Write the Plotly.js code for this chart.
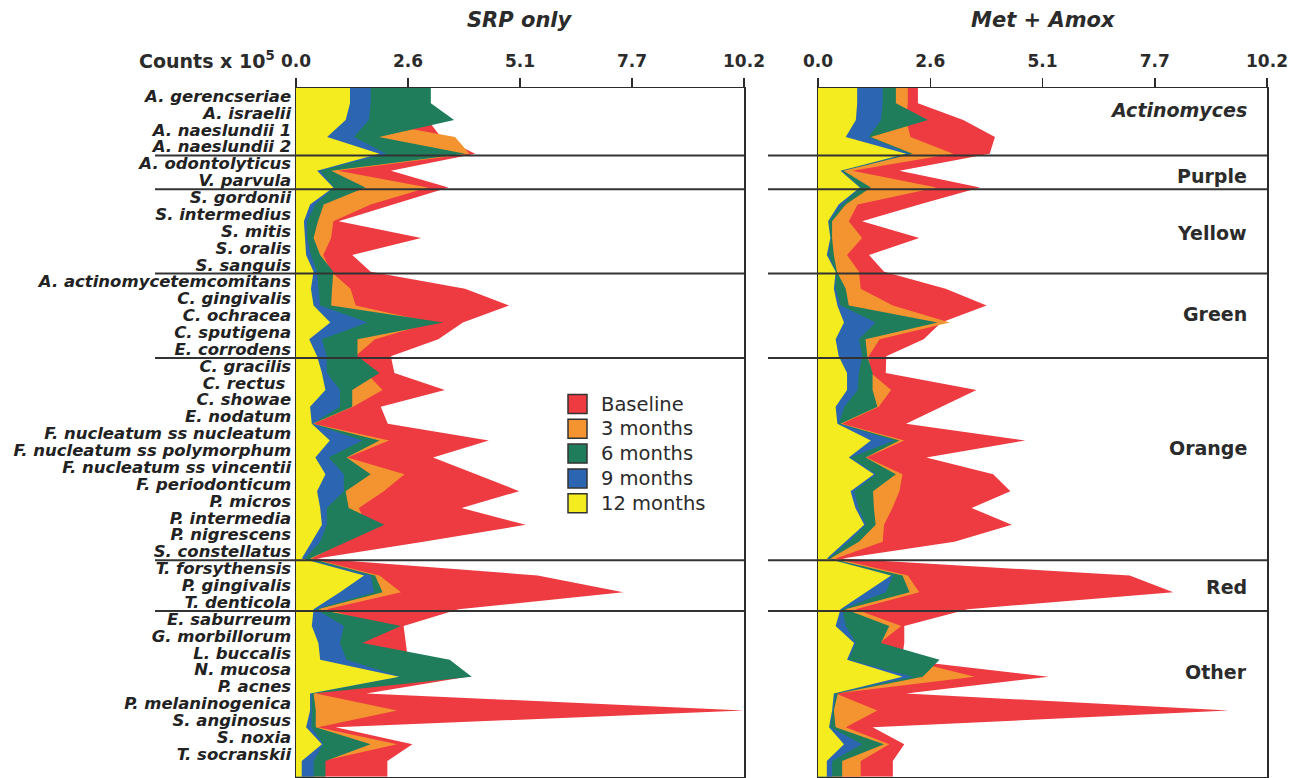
<!DOCTYPE html>
<html>
<head>
<meta charset="utf-8">
<script src="https://cdn.plot.ly/plotly-3.0.1.min.js"></script>
<style>html,body{margin:0;padding:0;background:#fff;}#chart{width:1301px;height:778px;}</style>
</head>
<body>
<div id="chart"></div>
<script>
// ---------------- DATA ----------------
const species = [
  'A. gerencseriae','A. israelii','A. naeslundii 1','A. naeslundii 2','A. odontolyticus','V. parvula',
  'S. gordonii','S. intermedius','S. mitis','S. oralis','S. sanguis',
  'A. actinomycetemcomitans','C. gingivalis','C. ochracea','C. sputigena','E. corrodens',
  'C. gracilis','C. rectus ','C. showae','E. nodatum','F. nucleatum ss nucleatum','F. nucleatum ss polymorphum',
  'F. nucleatum ss vincentii','F. periodonticum','P. micros','P. intermedia','P. nigrescens','S. constellatus',
  'T. forsythensis','P. gingivalis','T. denticola',
  'E. saburreum','G. morbillorum','L. buccalis','N. mucosa','P. acnes','P. melaninogenica','S. anginosus','S. noxia','T. socranskii'
];
const seriesNames = ['Baseline','3 months','6 months','9 months','12 months'];
const panelTitles = ['SRP only','Met + Amox'];
const groupNames = ['Actinomyces','Purple','Yellow','Green','Orange','Red','Other'];
const groupSizes = [4,2,5,5,12,3,9];
const xTickLabels = ['0.0','2.6','5.1','7.7','10.2'];
const xMax = 10.2;

// SRP only (counts x 10^5)
const srpBaseline = [2.6,3.0,3.3,4.08,2.16,3.47,2.23,0.97,2.85,1.28,1.7,3.85,4.85,3.8,3.24,2.16,2.24,3.39,1.93,2.09,4.39,3.12,4.1,5.08,3.77,5.23,2.9,0.48,5.5,7.45,3.7,2.45,2.5,2.55,3.9,1.6,10.2,0.9,2.65,2.08];
const srp3m      = [1.6,1.5,3.62,3.95,0.95,3.0,1.7,0.85,0.8,0.62,0.8,1.24,1.36,3.1,1.8,1.35,1.6,1.97,1.3,0.4,2.12,1.17,2.47,2.0,1.43,1.6,1.1,0.36,1.9,2.39,0.7,2.0,1.4,2.0,3.0,0.45,2.3,0.5,2.3,0.6];
const srp6m      = [3.07,3.6,1.89,3.85,0.8,1.58,0.63,0.5,0.4,0.55,0.85,0.82,0.8,3.35,1.4,1.4,1.9,1.28,1.28,0.38,1.9,1.15,1.7,1.13,1.2,2.01,1.17,0.32,1.8,1.97,0.5,2.39,1.51,3.5,4.0,0.4,0.45,0.45,1.7,0.67];
const srp9m      = [1.7,1.66,1.32,2.05,0.55,0.86,0.44,0.25,0.25,0.34,0.48,0.51,0.55,1.63,0.59,0.7,0.7,1.0,1.0,0.37,1.51,0.74,1.09,1.09,0.7,0.7,0.55,0.2,1.7,1.78,0.45,1.09,1.0,1.15,2.38,0.36,0.35,0.35,0.62,0.4];
const srp12m     = [1.23,1.13,0.71,1.9,0.48,0.85,0.32,0.18,0.2,0.23,0.4,0.34,0.4,0.78,0.3,0.48,0.59,0.67,0.32,0.36,0.77,0.44,0.67,0.48,0.55,0.59,0.36,0.13,1.55,1.0,0.4,0.36,0.51,0.55,2.35,0.32,0.32,0.23,0.59,0.13];

// Met + Amox (counts x 10^5)
const metBaseline = [2.27,3.3,4.02,3.9,1.85,3.68,2.3,1.0,2.3,1.16,1.5,2.9,3.83,2.8,2.4,1.55,1.54,3.6,2.8,2.0,4.71,2.46,3.98,4.37,3.49,4.4,3.1,0.55,7.08,8.07,3.4,1.96,1.96,1.9,5.24,2.0,9.33,1.24,1.96,1.7];
const met3m       = [2.04,2.0,2.1,3.07,0.78,2.69,0.9,0.7,1.0,0.66,0.93,0.97,1.7,2.99,1.4,1.15,1.2,1.66,1.38,0.55,1.96,1.1,1.92,1.85,1.69,1.5,1.47,0.4,2.04,2.3,0.85,1.89,1.4,2.0,3.56,0.4,1.35,0.63,1.62,0.97];
const met6m       = [1.77,2.5,1.2,2.15,0.58,1.2,0.63,0.32,0.32,0.36,0.43,0.63,0.7,2.72,1.08,1.12,1.24,1.24,1.35,0.51,1.85,1.08,1.77,1.25,1.27,1.31,0.93,0.28,1.92,2.08,0.62,1.62,1.43,2.76,2.38,0.45,0.36,0.4,1.5,0.55];
const met9m       = [1.47,1.43,1.15,2.08,0.54,0.97,0.55,0.25,0.29,0.24,0.41,0.4,0.51,1.31,0.93,1.0,0.93,0.9,0.6,0.47,1.73,0.74,1.32,0.82,0.92,1.09,0.7,0.24,1.7,1.54,0.55,0.63,0.86,0.7,2.15,0.4,0.34,0.28,1.0,0.32];
const met12m      = [0.89,0.86,0.63,2.0,0.51,0.95,0.47,0.23,0.28,0.2,0.4,0.36,0.44,0.59,0.4,0.47,0.66,0.66,0.4,0.44,1.2,0.7,1.27,0.74,0.85,1.05,0.63,0.2,1.66,1.08,0.51,0.4,0.82,0.66,1.92,0.36,0.32,0.25,0.59,0.2];

// ---------------- STYLE / LAYOUT ----------------
const colors = ['#ED3B41','#F49431','#1F7D5C','#2C66B3','#F5EC1F'];
const W = 1301, H = 778;
const px = v => v / W, py = v => 1 - v / H;
const yTop = -0.9, yBottom = 39.93;
const FONT = 'DejaVu Sans, Liberation Sans, Arial, sans-serif';
const ink = '#2b2b2b';

const panels = [
  {series:[srpBaseline,srp3m,srp6m,srp9m,srp12m], xa:'x', ya:'y'},
  {series:[metBaseline,met3m,met6m,met9m,met12m], xa:'x2', ya:'y2'}
];

const idx = species.map((s,i)=>i);
const yPad = [yTop, ...idx, yBottom];
const pad = a => [a[0], ...a, a[a.length-1]];

const traces = [];
panels.forEach(p => {
  p.series.forEach((vals, k) => {
    traces.push({
      type:'scatter', mode:'lines', name: seriesNames[k],
      x: pad(vals), y: yPad, xaxis: p.xa, yaxis: p.ya,
      fill:'tozerox', fillcolor: colors[k],
      line:{width:0, color: colors[k]},
      showlegend:false, hoverinfo:'skip'
    });
  });
});

const xTickVals = xTickLabels.map((t,i)=> xMax * i / (xTickLabels.length-1));
function xaxisDef(domain){
  return {
    domain, range:[0,xMax], side:'top', tickvals:xTickVals, ticktext:xTickLabels,
    ticks:'outside', ticklen:9, tickwidth:1.5, tickcolor:ink, ticklabelstandoff:4,
    tickfont:{family:FONT, size:17, color:ink, weight:'bold'},
    showline:true, mirror:true, linecolor:ink, linewidth:1.5,
    showgrid:false, zeroline:false, layer:'below traces', fixedrange:true
  };
}
function yaxisDef(anchor, labels){
  const d = {
    domain:[py(776.7), py(88)], range:[yBottom, yTop], anchor,
    showline:true, mirror:true, linecolor:ink, linewidth:1.5,
    showgrid:false, zeroline:false, layer:'below traces', fixedrange:true,
    ticks:''
  };
  if (labels) {
    d.tickvals = idx.map(i => i - 0.42);
    d.ticktext = species;
    d.tickfont = {family:FONT, size:16.5, color:'#222', weight:'bold', style:'italic'};
  } else {
    d.showticklabels = false;
  }
  return d;
}

// separators after each group
const shapes = [];
let cum = 0;
const sepYs = [];
groupSizes.forEach((n,g) => { cum += n; if (g < groupSizes.length-1) sepYs.push(cum - 1 + 0.1); });
sepYs.forEach(yv => {
  shapes.push({type:'line', xref:'paper', yref:'y', x0:px(155), x1:px(744), y0:yv, y1:yv, line:{color:'#333', width:2}, layer:'above'});
  shapes.push({type:'line', xref:'paper', yref:'y2', x0:px(768), x1:px(1267), y0:yv, y1:yv, line:{color:'#333', width:2}, layer:'above'});
});

const annotations = [];
// panel titles
const titleX = [520, 1043];
panelTitles.forEach((t,i) => annotations.push({
  text:'<b><i>'+t+'</i></b>', xref:'paper', yref:'paper', x:px(titleX[i]), y:py(20),
  xanchor:'center', yanchor:'middle', showarrow:false, font:{family:FONT, size:21, color:ink}
}));
annotations.push({
  text:'<b>Counts x 10<sup>5</sup></b>', xref:'paper', yref:'paper', x:px(277), y:py(60),
  xanchor:'right', yanchor:'middle', showarrow:false, font:{family:FONT, size:19, color:ink}
});
// group labels (right panel)
const groupLabelY = [0.41, 4.33, 7.71, 12.5, 20.45, 28.7, 33.7];
groupNames.forEach((g,i) => annotations.push({
  text: i === 0 ? '<b><i>'+g+'</i></b>' : '<b>'+g+'</b>',
  xref:'paper', yref:'y2', x:px(1249), y:groupLabelY[i], xanchor:'right', yanchor:'middle',
  showarrow:false, font:{family:FONT, size:19, color:ink}
}));
// legend (swatches + text)
const legX = 568, legY0 = 404, legDy = 24.8, sw = 19;
seriesNames.forEach((n,k) => {
  const cy = legY0 + k*legDy;
  shapes.push({type:'rect', xref:'paper', yref:'paper', x0:px(legX), x1:px(legX+sw), y0:py(cy-sw/2), y1:py(cy+sw/2),
    fillcolor:colors[k], line:{color:'#333', width:1.5}, layer:'above'});
  annotations.push({text:n, xref:'paper', yref:'paper', x:px(599), y:py(cy), xanchor:'left', yanchor:'middle',
    showarrow:false, font:{family:FONT, size:19.5, color:ink}});
});

const layout = {
  width:W, height:H, margin:{l:0,r:0,t:0,b:0}, paper_bgcolor:'#fff', plot_bgcolor:'#fff',
  showlegend:false,
  xaxis: xaxisDef([px(296), px(744)]),
  xaxis2: Object.assign(xaxisDef([px(818), px(1267)]), {anchor:'y2'}),
  yaxis: yaxisDef('x', true),
  yaxis2: yaxisDef('x2', false),
  shapes, annotations
};
layout.xaxis.anchor = 'y';

Plotly.newPlot('chart', traces, layout, {displayModeBar:false, staticPlot:true});
</script>
</body>
</html>
